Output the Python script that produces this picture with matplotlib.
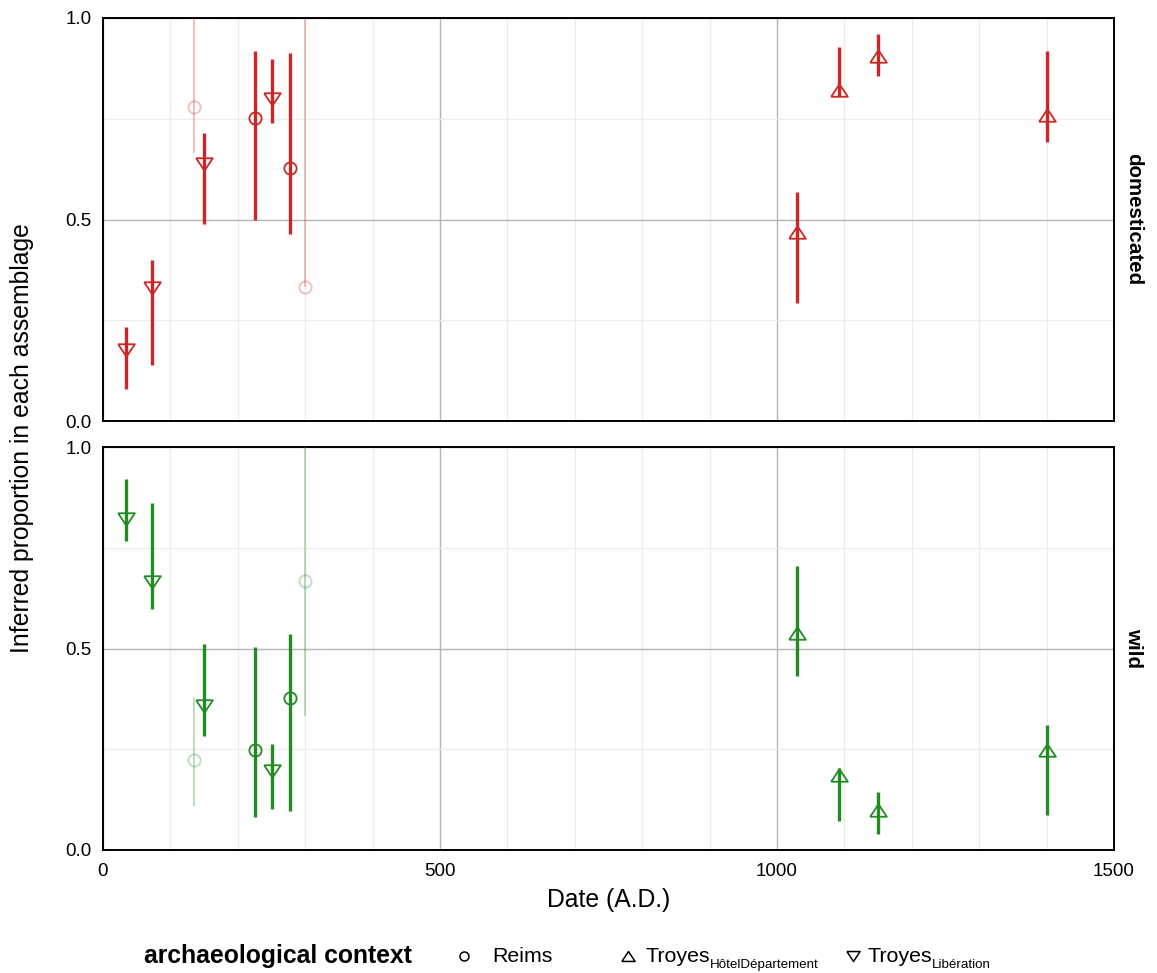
#!/usr/bin/env python3
"""
Inferred domesticated / wild proportions per assemblage, faceted by category
"""

import matplotlib
matplotlib.use('Agg')
import matplotlib.pyplot as plt
from matplotlib.lines import Line2D
from matplotlib.ticker import MultipleLocator

plt.rcParams['font.family'] = ['Liberation Sans', 'DejaVu Sans']

# Reims
reims_date = [135, 225, 278, 300]
reims_faded = [True, False, False, True]
reims_dom = [0.778, 0.751, 0.627, 0.333]
reims_dom_lo = [0.666, 0.499, 0.464, 0.333]
reims_dom_hi = [1.0, 0.919, 0.912, 1.0]
reims_wild = [0.223, 0.248, 0.378, 0.668]
reims_wild_lo = [0.109, 0.081, 0.097, 0.332]
reims_wild_hi = [0.378, 0.503, 0.537, 1.0]

# Troyes Libération
lib_date = [34, 73, 150, 250]
lib_faded = [False, False, False, False]
lib_dom = [0.175, 0.330, 0.638, 0.798]
lib_dom_lo = [0.079, 0.139, 0.489, 0.739]
lib_dom_hi = [0.233, 0.400, 0.715, 0.898]
lib_wild = [0.822, 0.664, 0.357, 0.196]
lib_wild_lo = [0.766, 0.597, 0.284, 0.101]
lib_wild_hi = [0.921, 0.860, 0.512, 0.262]

# Troyes Hôtel Département
hotel_date = [1030, 1092, 1150, 1400]
hotel_faded = [False, False, False, False]
hotel_dom = [0.468, 0.821, 0.906, 0.759]
hotel_dom_lo = [0.294, 0.806, 0.855, 0.692]
hotel_dom_hi = [0.569, 0.927, 0.960, 0.918]
hotel_wild = [0.539, 0.186, 0.100, 0.247]
hotel_wild_lo = [0.431, 0.073, 0.039, 0.087]
hotel_wild_hi = [0.705, 0.203, 0.143, 0.310]

facets = ['domesticated', 'wild']
facet_colors = {'domesticated': '#CD2626', 'wild': '#228B22'}

# marker shapes (ggplot-like flat triangles)
TRI_UP = [(-1, -0.75), (1, -0.75), (0, 0.75), (-1, -0.75)]
TRI_DOWN = [(-1, 0.75), (1, 0.75), (0, -0.75), (-1, 0.75)]

sites = [
    ('Reims', 'o', 8.8, reims_date, reims_faded,
     {'domesticated': (reims_dom, reims_dom_lo, reims_dom_hi),
      'wild': (reims_wild, reims_wild_lo, reims_wild_hi)}),
    ('HotelDep', TRI_UP, 12, hotel_date, hotel_faded,
     {'domesticated': (hotel_dom, hotel_dom_lo, hotel_dom_hi),
      'wild': (hotel_wild, hotel_wild_lo, hotel_wild_hi)}),
    ('Liberation', TRI_DOWN, 12, lib_date, lib_faded,
     {'domesticated': (lib_dom, lib_dom_lo, lib_dom_hi),
      'wild': (lib_wild, lib_wild_lo, lib_wild_hi)}),
]

W, H = 1157, 973
fig = plt.figure(figsize=(W / 100, H / 100), dpi=100)
left, right = 103 / W, 1114 / W
axes = [
    fig.add_axes([left, (H - 421) / H, right - left, 403 / H]),
    fig.add_axes([left, (H - 850) / H, right - left, 403 / H]),
]

for ax, facet in zip(axes, facets):
    color = facet_colors[facet]
    ax.set_xlim(0, 1500)
    ax.set_ylim(0, 1)
    ax.xaxis.set_major_locator(MultipleLocator(500))
    ax.xaxis.set_minor_locator(MultipleLocator(100))
    ax.yaxis.set_major_locator(MultipleLocator(0.5))
    ax.yaxis.set_minor_locator(MultipleLocator(0.25))
    ax.grid(True, which='major', color='#b4b4b4', linewidth=1.0)
    ax.grid(True, which='minor', color='#ececec', linewidth=0.9)
    ax.set_axisbelow(True)
    ax.tick_params(which='both', length=0, labelsize=13.5)
    ax.tick_params(axis='y', pad=8)
    ax.tick_params(axis='x', pad=9)
    ax.yaxis.set_major_formatter(plt.FuncFormatter(lambda v, p: f'{v:.1f}'))
    for sp in ax.spines.values():
        sp.set_color('black')
        sp.set_linewidth(1.4)

    for name, marker, msize, dates, faded, vals in sites:
        mid, lo, hi = vals[facet]
        for d, m, l, h, f in zip(dates, mid, lo, hi, faded):
            alpha = 0.3 if f else 1.0
            lw = 1.4 if f else 2.4
            ax.vlines(d, l, h, color=color, linewidth=lw, alpha=alpha, zorder=3)
            ax.plot(d, m, linestyle='none', marker=marker, markersize=msize,
                    markerfacecolor='none', markeredgecolor=color,
                    markeredgewidth=1.3, alpha=alpha, zorder=4)

    ax.text(1.0 + 20 / 1011, 0.5, facet, transform=ax.transAxes, rotation=-90,
            ha='center', va='center', fontsize=14.8, fontweight='bold')

axes[0].tick_params(axis='x', labelbottom=False)
axes[1].set_xlabel('Date (A.D.)', fontsize=17.8, labelpad=6)
fig.text(22 / W, 1 - 438 / H, 'Inferred proportion in each assemblage',
         rotation=90, ha='center', va='center', fontsize=17.8)

# legend along the bottom
ly = 1 - 956 / H
fig.text(144 / W, ly, 'archaeological context', fontsize=17.8,
         fontweight='bold', ha='left', va='center')

legend_items = [
    ('o', 6.5, 464, 'Reims', None, 492),
    (TRI_UP, 9.5, 628, 'Troyes', 'HôtelDépartement', 645),
    (TRI_DOWN, 9.5, 853, 'Troyes', 'Libération', 867),
]
for marker, msize, mx, label, sub, tx in legend_items:
    fig.add_artist(Line2D([mx / W], [ly], transform=fig.transFigure,
                          linestyle='none', marker=marker, markersize=msize,
                          markerfacecolor='none', markeredgecolor='black',
                          markeredgewidth=1.1))
    t = fig.text(tx / W, ly, label, fontsize=15.4, ha='left', va='center')
    if sub:
        fig.canvas.draw()
        bb = t.get_window_extent()
        fig.text(bb.x1 / W, 1 - 965 / H, sub, fontsize=9.6,
                 ha='left', va='center')

fig.savefig('out.png', dpi=100)
